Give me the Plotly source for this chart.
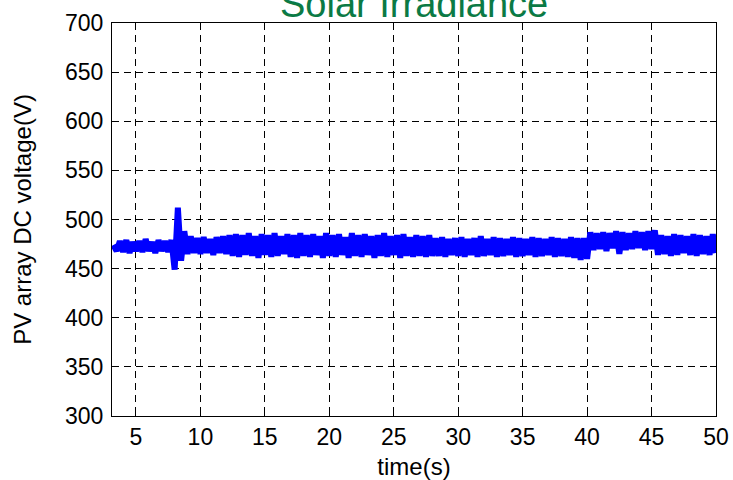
import plotly.graph_objects as go

# PV array DC-link voltage, sampled every 0.25 s from t = 3.25 s to 50 s
t_start = 3.25
t_step = 0.25

vdc = [
    # 3.25 - 7.75 s
    474, 468, 478, 467, 479, 466, 477, 468, 478, 467, 480, 468, 477, 466, 479, 468, 478, 467, 479,
    # irradiance step transient around 8 s
    449, 512, 458, 488, 465, 483, 466,
    # 9.75 - 12.25 s
    481, 465, 482, 466, 480, 464, 482, 466, 483, 465, 484,
    # 12.5 - 28 s
    463, 485, 462, 484, 464, 486, 463, 483, 461, 485,
    464, 484, 462, 486, 463, 483, 465, 485, 462, 484,
    461, 486, 463, 484, 462, 485, 464, 483, 461, 486,
    463, 484, 462, 485, 464, 482, 461, 486, 463, 484,
    462, 485, 464, 483, 461, 484, 463, 486, 462, 483,
    464, 484, 461, 485, 463, 482, 462, 484, 463, 483,
    462, 484, 463,
    # 28.25 - 39.25 s
    481, 463, 482, 462, 480, 464, 481, 463, 482, 462,
    480, 464, 481, 462, 483, 463, 480, 464, 482, 462,
    481, 463, 480, 464, 482, 462, 481, 463, 480, 464,
    482, 462, 481, 463, 480, 464, 482, 462, 481, 463,
    480, 462, 482, 461, 481,
    # 39.5 - 40.25 s
    459, 481, 460, 487,
    # 40.5 - 45 s
    469, 486, 470, 487, 468, 486, 471, 488, 465, 487,
    469, 486, 470, 488, 471, 487, 469, 488, 470,
    # 45.25 - 50 s
    489, 464, 484, 465, 483, 463, 485, 464, 484, 466,
    483, 464, 485, 463, 484, 465, 483, 464, 485, 466,
]
time_s = [t_start + t_step * i for i in range(len(vdc))]

x_ticks = [5, 10, 15, 20, 25, 30, 35, 40, 45, 50]
y_ticks = [300, 350, 400, 450, 500, 550, 600, 650, 700]

FONT = "Liberation Sans, Arial, sans-serif"

fig = go.Figure()
fig.add_trace(go.Scatter(
    x=time_s, y=vdc, mode="lines",
    line=dict(color="#0000ff", width=6),
    showlegend=False, hoverinfo="skip",
))

axis_common = dict(
    showline=True, linecolor="black", linewidth=1, mirror="ticks",
    ticks="inside", ticklen=6, tickcolor="black", tickwidth=1,
    showgrid=True, gridcolor="black", gridwidth=1, griddash="7px,5px",
    zeroline=False, automargin=False,
    tickfont=dict(family=FONT, size=23, color="black"),
)

fig.update_xaxes(
    range=[3.14, 50], tickvals=x_ticks, ticktext=[str(v) for v in x_ticks],
    title=dict(text="time(s)", font=dict(family=FONT, size=24, color="black"), standoff=9),
    **axis_common,
)
fig.update_yaxes(
    range=[300, 700], tickvals=y_ticks, ticktext=[str(v) for v in y_ticks],
    ticklabelstandoff=3,
    title=dict(text="PV array DC voltage(V)", font=dict(family=FONT, size=24, color="black"), standoff=26),
    **axis_common,
)

fig.add_annotation(
    text="Solar Irradiance", xref="paper", yref="paper",
    x=0.5, y=0.99, xanchor="center", yanchor="bottom", showarrow=False,
    font=dict(family=FONT, size=38, color="#0b7a45"),
)

fig.update_layout(
    width=733, height=480,
    margin=dict(l=112, r=17, t=23, b=64),
    paper_bgcolor="white", plot_bgcolor="white",
    font=dict(family=FONT, color="black"),
)

fig.write_html("out.html")
